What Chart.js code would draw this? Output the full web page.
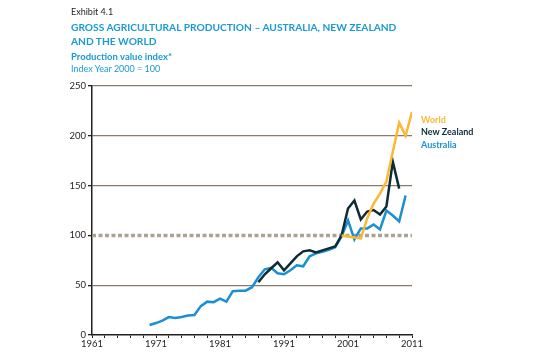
<!DOCTYPE html>
<html>
<head>
<meta charset="utf-8">
<script src="https://cdn.jsdelivr.net/npm/chart.js@4"></script>
<style>
  html, body { margin: 0; padding: 0; background: #fff; }
  #wrap { position: relative; width: 550px; height: 362px; font-family: Lato, "Open Sans", sans-serif; }
  #chart { position: absolute; left: 0; top: 0; }
  .txt { position: absolute; left: 71px; white-space: nowrap; }
  #exhibit { top: 6px; font-size: 9px; color: #231f20; }
  #title { top: 19.5px; font-size: 10.2px; font-weight: bold; color: #1b9ad6; line-height: 14.5px; }
  #sub1 { top: 50.5px; font-size: 9.5px; font-weight: bold; color: #1b9ad6; }
  #sub2 { top: 62.5px; font-size: 9px; color: #1b9ad6; }
  #legend { position: absolute; left: 421px; top: 114px; font-size: 9px; font-weight: bold; line-height: 12.3px; }
</style>
</head>
<body>
<div id="wrap">
  <canvas id="chart" width="550" height="362"></canvas>
  <div class="txt" id="exhibit">Exhibit 4.1</div>
  <div class="txt" id="title">GROSS AGRICULTURAL PRODUCTION – AUSTRALIA, NEW ZEALAND<br>AND THE WORLD</div>
  <div class="txt" id="sub1">Production value index*</div>
  <div class="txt" id="sub2">Index Year 2000 = 100</div>
  <div id="legend"></div>
</div>
<script>
// values, index year 2000 = 100
const australiaYears = [1970, 1971, 1972, 1973, 1974, 1975, 1976, 1977, 1978, 1979,
  1980, 1981, 1982, 1983, 1984, 1985, 1986, 1987, 1988, 1989,
  1990, 1991, 1992, 1993, 1994, 1995, 1996, 1997, 1998, 1999,
  2000, 2001, 2002, 2003, 2004, 2005, 2006, 2007, 2008, 2009, 2010];
const australiaValues = [10, 12, 14.5, 18, 17, 18, 19.5, 20, 29, 33.5,
  33, 36.5, 33.5, 44, 44.5, 44.5, 48, 58, 66, 67.5,
  62, 61, 65, 70, 69, 79, 82, 83.5, 85.5, 88,
  99, 115, 96, 107, 107, 111, 106, 125, 120, 114, 140];

const nzYears = [1987, 1988, 1989, 1990, 1991, 1992, 1993, 1994, 1995, 1996,
  1997, 1998, 1999, 2000, 2001, 2002, 2003, 2004, 2005, 2006, 2007, 2008, 2009];
const nzValues = [53, 61, 67, 73, 65, 72, 79, 84, 85, 83,
  85, 87, 89, 100, 127, 135, 116, 124, 125.5, 121, 129, 174, 147];

const worldYears = [2000, 2001, 2002, 2003, 2004, 2005, 2006, 2007, 2008, 2009, 2010, 2011];
const worldValues = [100, 99, 98, 97, 117, 132, 142, 154, 184, 213, 200, 224];

const baseYears = [1961, 2011];
const baseValues = [100, 100];

const xTickYears = [];
for (let y = 1961; y <= 2011; y += 2) xTickYears.push(y);
const xLabelYears = [1961, 1971, 1981, 1991, 2001, 2011];

const seriesNames = ["World", "New Zealand", "Australia"];
const seriesColors = ["#fbb832", "#0e2c36", "#1b8fd2"];

function points(xs, ys) {
  return xs.map((x, i) => ({ x: x, y: ys[i] }));
}

document.getElementById("legend").innerHTML = seriesNames
  .map((name, i) => `<div style="color:${seriesColors[i]}">${name}</div>`)
  .join("");

const tickFont = { family: "Lato, 'Open Sans', sans-serif", size: 9.5 };

new Chart(document.getElementById("chart"), {
  type: "line",
  data: {
    datasets: [
      {
        label: "Index 2000",
        data: points(baseYears, baseValues),
        borderColor: "#aba392",
        borderWidth: 3.5,
        borderDash: [4, 2.5],
        pointRadius: 0,
        order: 4,
      },
      {
        label: "Australia",
        data: points(australiaYears, australiaValues),
        borderColor: seriesColors[2],
        borderWidth: 2.5,
        pointRadius: 0,
        tension: 0,
        order: 3,
      },
      {
        label: "New Zealand",
        data: points(nzYears, nzValues),
        borderColor: seriesColors[1],
        borderWidth: 2.5,
        pointRadius: 0,
        tension: 0,
        order: 2,
      },
      {
        label: "World",
        data: points(worldYears, worldValues),
        borderColor: seriesColors[0],
        borderWidth: 2.5,
        pointRadius: 0,
        tension: 0,
        order: 1,
      },
    ],
  },
  options: {
    responsive: false,
    animation: false,
    layout: { padding: { left: 0, top: 86, right: 138, bottom: 12 } },
    plugins: { legend: { display: false }, tooltip: { enabled: false } },
    scales: {
      x: {
        type: "linear",
        min: 1961,
        max: 2011,
        afterBuildTicks: (scale) => {
          scale.ticks = xTickYears.map((v) => ({ value: v }));
        },
        afterFit: (scale) => { scale.height = 15; },
        ticks: {
          autoSkip: false,
          maxRotation: 0,
          padding: 0,
          color: "#231f20",
          font: tickFont,
          callback: (v) => (xLabelYears.includes(v) ? String(v) : ""),
        },
        grid: { drawOnChartArea: false, drawTicks: true, tickLength: 3, tickColor: "#231f20" },
        border: { color: "#231f20", width: 1.5 },
      },
      y: {
        min: 0,
        max: 250,
        afterFit: (scale) => { scale.width = 92; },
        ticks: { stepSize: 50, padding: 2, color: "#231f20", font: tickFont },
        grid: {
          color: (ctx) => (ctx.tick.value === 0 || ctx.tick.value === 100 ? "rgba(0,0,0,0)" : "#8a7a6b"),
          lineWidth: 1.3,
          tickLength: 4,
          tickColor: "#231f20",
        },
        border: { color: "#231f20", width: 1.5 },
      },
    },
  },
});
</script>
</body>
</html>
